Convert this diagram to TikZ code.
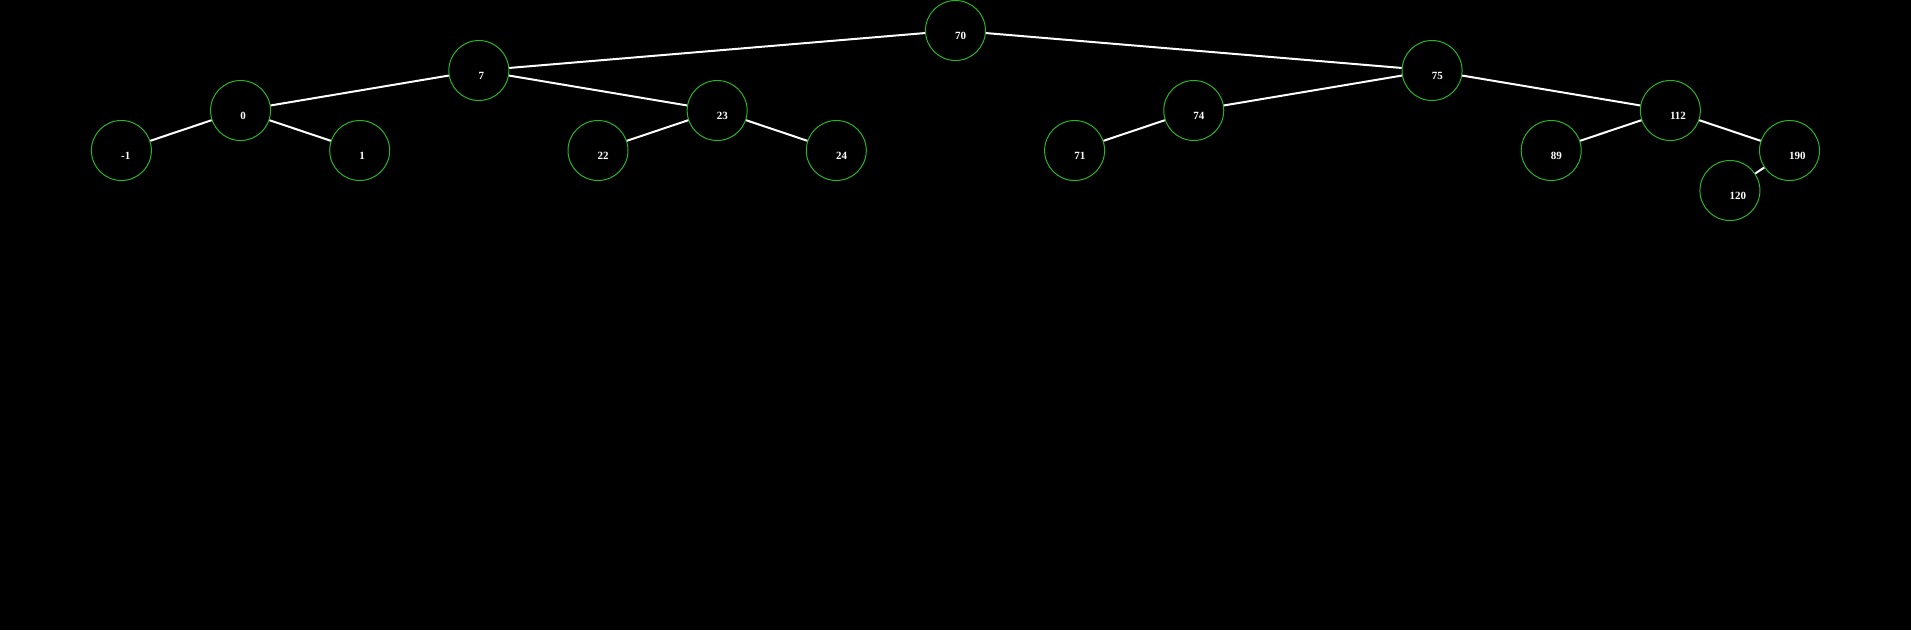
\documentclass[tikz,border=0pt]{standalone}
\usepackage{fontspec}
\setmainfont{Liberation Serif}
\definecolor{ringgreen}{RGB}{40,180,40}
\tikzset{
  bnode/.style={circle, draw=ringgreen, line width=1pt, minimum size=60pt, inner sep=0pt},
  btext/.style={text=white, inner sep=0pt, anchor=base west, font=\fontsize{11}{13}\selectfont\bfseries},
  edge/.style={draw=white, line width=2pt}
}
\begin{document}
\begin{tikzpicture}[x=1pt, y=-1pt]
\fill[black] (0,0) rectangle (1911,630);
\useasboundingbox (0,0) rectangle (1911,630);
\def\dx{119.15}
% nodes: in-order index, level
\foreach \nm/\idx/\lvl in {m1/0/3, n0/1/2, n1/2/3, n7/3/1, n22/4/3, n23/5/2, n24/6/3, n70/7/0, n71/8/3, n74/9/2, n75/11/1, n89/12/3, n112/13/2, n190/14/3, n120/13.5/4}{
  \node[bnode] (\nm) at ({121.4+\dx*\idx},{30.5+40*\lvl}) {};
}
\foreach \nm/\txt in {m1/-1, n0/0, n1/1, n7/7, n22/22, n23/23, n24/24, n70/70, n71/71, n74/74, n75/75, n89/89, n112/112, n190/190, n120/120}{
  \node[btext, xshift=-0.5pt, yshift=-8.5pt] (t\nm) at (\nm.center) {\txt};
}
\draw[edge] (n70) -- (n7);
\draw[edge] (n70) -- (n75);
\draw[edge] (n7) -- (n0);
\draw[edge] (n7) -- (n23);
\draw[edge] (n0) -- (m1);
\draw[edge] (n0) -- (n1);
\draw[edge] (n23) -- (n22);
\draw[edge] (n23) -- (n24);
\draw[edge] (n75) -- (n74);
\draw[edge] (n75) -- (n112);
\draw[edge] (n74) -- (n71);
\draw[edge] (n112) -- (n89);
\draw[edge] (n112) -- (n190);
\draw[edge] (n190) -- (n120);
\end{tikzpicture}
\end{document}
